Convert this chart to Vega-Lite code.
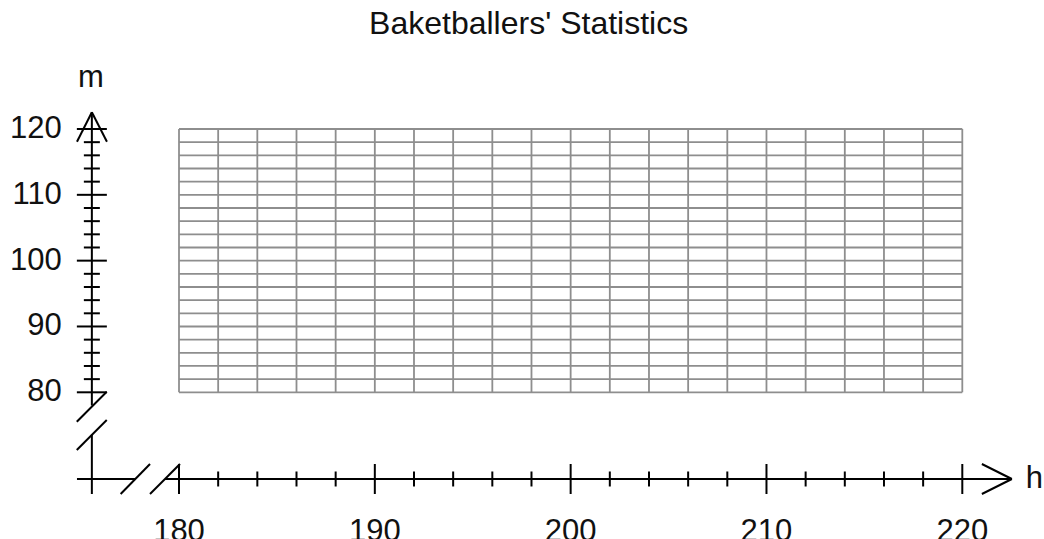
{
  "$schema": "https://vega.github.io/schema/vega-lite/v6.json",
  "width": 783.3,
  "height": 263.3,
  "autosize": {"type": "none"},
  "padding": {"left": 179, "top": 129, "right": 81.7, "bottom": 146.7},
  "background": "white",
  "title": {
    "text": "Baketballers' Statistics",
    "font": "Liberation Sans",
    "fontSize": 32,
    "fontWeight": "normal",
    "color": "#111111",
    "anchor": "middle",
    "frame": "group",
    "baseline": "alphabetic",
    "dx": -42,
    "dy": 30,
    "offset": 26
  },
  "config": {"view": {"stroke": null}, "font": "Liberation Sans"},
  "datasets": {
    "hTicks": [
      {"h": 180}, {"h": 182}, {"h": 184}, {"h": 186}, {"h": 188},
      {"h": 190}, {"h": 192}, {"h": 194}, {"h": 196}, {"h": 198},
      {"h": 200}, {"h": 202}, {"h": 204}, {"h": 206}, {"h": 208},
      {"h": 210}, {"h": 212}, {"h": 214}, {"h": 216}, {"h": 218},
      {"h": 220}
    ],
    "mTicks": [
      {"m": 80}, {"m": 82}, {"m": 84}, {"m": 86}, {"m": 88},
      {"m": 90}, {"m": 92}, {"m": 94}, {"m": 96}, {"m": 98},
      {"m": 100}, {"m": 102}, {"m": 104}, {"m": 106}, {"m": 108},
      {"m": 110}, {"m": 112}, {"m": 114}, {"m": 116}, {"m": 118},
      {"m": 120}
    ],
    "segments": [
      {"x": 175.55, "y": 122.54, "x2": 175.55, "y2": 78.0},
      {"x": 175.55, "y": 73.56, "x2": 175.55, "y2": 64.55},
      {"x": 174.79, "y": 66.83, "x2": 177.77, "y2": 66.83},
      {"x": 179.285, "y": 66.83, "x2": 222.53, "y2": 66.83},
      {"x": 176.31, "y": 80.09, "x2": 174.78, "y2": 75.53},
      {"x": 176.31, "y": 75.79, "x2": 174.78, "y2": 71.23},
      {"x": 178.52, "y": 69.11, "x2": 177.02, "y2": 64.55},
      {"x": 180.05, "y": 69.11, "x2": 178.52, "y2": 64.55},
      {"x": 175.55, "y": 122.54, "x2": 174.79, "y2": 118.07},
      {"x": 175.55, "y": 122.54, "x2": 176.32, "y2": 118.07},
      {"x": 222.53, "y": 66.83, "x2": 221.0, "y2": 69.11},
      {"x": 222.53, "y": 66.83, "x2": 221.0, "y2": 64.55}
    ],
    "axisNames": [
      {"name": "m", "x": 175.55, "y": 122.54, "side": "top"},
      {"name": "h", "x": 222.53, "y": 66.83, "side": "right"}
    ]
  },
  "layer": [
    {
      "data": {"name": "hTicks"},
      "mark": {"type": "rule", "color": "#8e8e8e", "strokeWidth": 1.8},
      "encoding": {
        "x": {"field": "h", "type": "quantitative", "scale": {"domain": [180, 220], "nice": false, "zero": false}, "axis": null},
        "y": {"datum": 80, "type": "quantitative", "scale": {"domain": [80, 120], "nice": false, "zero": false}, "axis": null},
        "y2": {"datum": 120}
      }
    },
    {
      "data": {"name": "mTicks"},
      "mark": {"type": "rule", "color": "#8e8e8e", "strokeWidth": 1.8},
      "encoding": {
        "y": {"field": "m", "type": "quantitative", "scale": {"domain": [80, 120], "nice": false, "zero": false}, "axis": null},
        "x": {"datum": 180, "type": "quantitative", "scale": {"domain": [180, 220], "nice": false, "zero": false}, "axis": null},
        "x2": {"datum": 220}
      }
    },
    {
      "data": {"name": "segments"},
      "mark": {"type": "rule", "color": "black", "strokeWidth": 2},
      "encoding": {
        "x": {"field": "x", "type": "quantitative", "scale": {"domain": [180, 220], "nice": false, "zero": false}, "axis": null},
        "y": {"field": "y", "type": "quantitative", "scale": {"domain": [80, 120], "nice": false, "zero": false}, "axis": null},
        "x2": {"field": "x2"},
        "y2": {"field": "y2"}
      }
    },
    {
      "data": {"name": "hTicks"},
      "mark": {"type": "tick", "orient": "vertical", "color": "black", "thickness": 2, "opacity": 1},
      "encoding": {
        "x": {"field": "h", "type": "quantitative", "scale": {"domain": [180, 220], "nice": false, "zero": false}, "axis": null},
        "y": {"datum": 66.83, "type": "quantitative", "scale": {"domain": [80, 120], "nice": false, "zero": false}, "axis": null},
        "size": {"condition": {"test": "datum.h % 10 === 0", "value": 30}, "value": 15}
      }
    },
    {
      "data": {"name": "mTicks"},
      "mark": {"type": "tick", "orient": "horizontal", "color": "black", "thickness": 2, "opacity": 1},
      "encoding": {
        "y": {"field": "m", "type": "quantitative", "scale": {"domain": [80, 120], "nice": false, "zero": false}, "axis": null},
        "x": {"datum": 175.55, "type": "quantitative", "scale": {"domain": [180, 220], "nice": false, "zero": false}, "axis": null},
        "size": {"condition": {"test": "datum.m % 10 === 0", "value": 30}, "value": 16}
      }
    },
    {
      "data": {"name": "hTicks"},
      "transform": [{"filter": "datum.h % 10 === 0"}],
      "mark": {"type": "text", "fontSize": 31, "font": "Liberation Sans", "color": "#111111", "align": "center", "baseline": "alphabetic", "dy": 62},
      "encoding": {
        "x": {"field": "h", "type": "quantitative", "scale": {"domain": [180, 220], "nice": false, "zero": false}, "axis": null},
        "y": {"datum": 66.83, "type": "quantitative", "scale": {"domain": [80, 120], "nice": false, "zero": false}, "axis": null},
        "text": {"field": "h", "type": "quantitative"}
      }
    },
    {
      "data": {"name": "mTicks"},
      "transform": [{"filter": "datum.m % 10 === 0"}],
      "mark": {"type": "text", "fontSize": 31, "font": "Liberation Sans", "color": "#111111", "align": "right", "baseline": "middle", "dx": -30},
      "encoding": {
        "y": {"field": "m", "type": "quantitative", "scale": {"domain": [80, 120], "nice": false, "zero": false}, "axis": null},
        "x": {"datum": 175.55, "type": "quantitative", "scale": {"domain": [180, 220], "nice": false, "zero": false}, "axis": null},
        "text": {"field": "m", "type": "quantitative"}
      }
    },
    {
      "data": {"name": "axisNames"},
      "transform": [{"filter": "datum.side === 'top'"}],
      "mark": {"type": "text", "fontSize": 31, "font": "Liberation Sans", "color": "#111111", "align": "center", "baseline": "alphabetic", "dx": -1, "dy": -25},
      "encoding": {
        "x": {"field": "x", "type": "quantitative", "scale": {"domain": [180, 220], "nice": false, "zero": false}, "axis": null},
        "y": {"field": "y", "type": "quantitative", "scale": {"domain": [80, 120], "nice": false, "zero": false}, "axis": null},
        "text": {"field": "name", "type": "nominal"}
      }
    },
    {
      "data": {"name": "axisNames"},
      "transform": [{"filter": "datum.side === 'right'"}],
      "mark": {"type": "text", "fontSize": 31, "font": "Liberation Sans", "color": "#111111", "align": "left", "baseline": "alphabetic", "dx": 14, "dy": 9.5},
      "encoding": {
        "x": {"field": "x", "type": "quantitative", "scale": {"domain": [180, 220], "nice": false, "zero": false}, "axis": null},
        "y": {"field": "y", "type": "quantitative", "scale": {"domain": [80, 120], "nice": false, "zero": false}, "axis": null},
        "text": {"field": "name", "type": "nominal"}
      }
    }
  ]
}
